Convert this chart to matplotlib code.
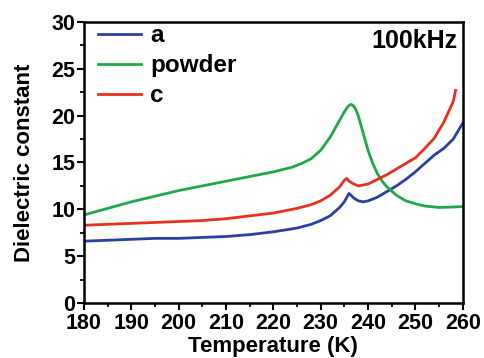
import matplotlib
matplotlib.use("Agg")
import matplotlib.pyplot as plt
from matplotlib.ticker import MultipleLocator

plt.rcParams['font.family'] = ['Liberation Sans', 'DejaVu Sans']
plt.rcParams['font.weight'] = 'bold'

# blue curve, "a"
t_a = [180, 185, 190, 195, 200, 205, 210, 215, 220, 225, 228, 230, 232, 234,
       235, 236, 237, 238, 239, 240, 242, 244, 246, 248, 250, 252, 254, 256,
       258, 260]
eps_a = [6.6, 6.7, 6.8, 6.9, 6.9, 7.0, 7.1, 7.3, 7.6, 8.0, 8.4, 8.8, 9.3, 10.2,
         10.8, 11.7, 11.2, 10.9, 10.8, 10.9, 11.3, 11.9, 12.5, 13.2, 14.0, 14.9,
         15.8, 16.5, 17.5, 19.2]

# green curve, "powder"
t_p = [180, 185, 190, 195, 200, 205, 210, 215, 220, 224, 226, 228, 230, 232,
       233, 234, 235, 235.5, 236, 236.5, 237, 237.5, 238, 239, 240, 241, 242,
       243, 244, 246, 248, 250, 252, 255, 258, 260]
eps_p = [9.4, 10.1, 10.8, 11.4, 12.0, 12.5, 13.0, 13.5, 14.0, 14.5, 14.9, 15.4,
         16.3, 17.7, 18.6, 19.5, 20.4, 20.8, 21.1, 21.2, 21.0, 20.6, 19.9, 18.1,
         16.3, 14.9, 13.8, 13.0, 12.4, 11.5, 10.9, 10.6, 10.35, 10.2, 10.25, 10.3]

# red curve, "c"
t_c = [180, 190, 200, 205, 210, 215, 220, 225, 228, 230, 232, 234, 235, 235.5,
       236, 237, 238, 240, 242, 244, 246, 248, 250, 252, 254, 256, 258, 258.5]
eps_c = [8.3, 8.5, 8.7, 8.8, 9.0, 9.3, 9.6, 10.1, 10.5, 10.9, 11.5, 12.4, 13.1,
         13.3, 13.0, 12.7, 12.5, 12.7, 13.2, 13.7, 14.3, 14.9, 15.5, 16.5, 17.6,
         19.3, 21.5, 22.7]

fig = plt.figure(figsize=(4.85, 3.58), dpi=100)
ax = fig.add_axes([0.173, 0.1536, 0.781, 0.785])

ax.plot(t_a, eps_a, color='#2b3fa0', lw=2, label='a')
ax.plot(t_p, eps_p, color='#1fa84a', lw=2, label='powder')
ax.plot(t_c, eps_c, color='#e8301c', lw=2, label='c')

ax.set_xlim(180, 260)
ax.set_ylim(0, 30)
ax.xaxis.set_major_locator(MultipleLocator(10))
ax.xaxis.set_minor_locator(MultipleLocator(5))
ax.yaxis.set_major_locator(MultipleLocator(5))
ax.yaxis.set_minor_locator(MultipleLocator(2.5))
ax.tick_params(which='major', direction='out', length=5, width=1.5, labelsize=15.5)
ax.tick_params(axis='y', which='major', pad=1)
ax.tick_params(axis='x', which='major', pad=2.5)
ax.tick_params(which='minor', direction='out', length=3, width=1.3)
for s in ax.spines.values():
    s.set_linewidth(1.8)

ax.set_xlabel('Temperature (K)', fontsize=16, fontweight='bold', labelpad=1)
ax.set_ylabel('Dielectric constant', fontsize=16, fontweight='bold', labelpad=12)

ax.legend(loc='upper left', bbox_to_anchor=(0.03, 1.0), frameon=False,
          fontsize=17.5, handlelength=1.8, handletextpad=0.35,
          labelspacing=0.28, borderaxespad=0.0, borderpad=0.1)
ax.text(0.985, 0.975, '100kHz', transform=ax.transAxes, ha='right', va='top',
        fontsize=18, fontweight='bold')

fig.savefig('out.png', dpi=100)
